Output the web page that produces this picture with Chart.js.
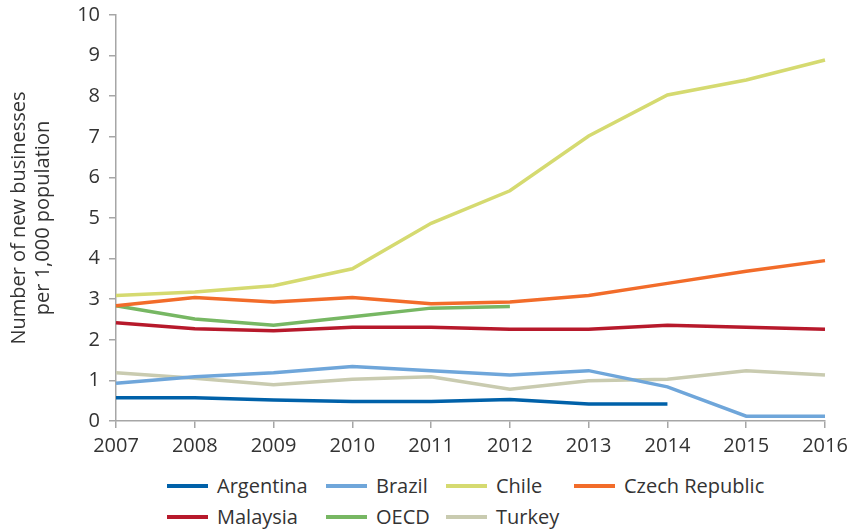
<!DOCTYPE html>
<html>
<head>
<meta charset="utf-8">
<script src="https://cdn.jsdelivr.net/npm/chart.js@4"></script>
<style>
  html, body { margin: 0; padding: 0; background: #fff; }
  body { width: 860px; height: 529px; overflow: hidden; font-family: "Open Sans", sans-serif; }
  #wrap { width: 860px; height: 462px; position: relative; }
  #legend { position: absolute; left: 167px; top: 473px; display: grid; grid-template-columns: 159px 120px 128px 220px; row-gap: 6px; }
  .item { display: flex; align-items: center; font-size: 20px; color: #333; height: 25px; white-space: nowrap; }
  .swatch { width: 41px; height: 4px; margin-right: 9px; flex: none; }
</style>
</head>
<body>
<div id="wrap"><canvas id="chart" width="860" height="462"></canvas></div>
<div id="legend"></div>
<script>
// Данные
const years = ['2007', '2008', '2009', '2010', '2011', '2012', '2013', '2014', '2015', '2016'];

const argentina = [0.57, 0.57, 0.52, 0.48, 0.48, 0.53, 0.42, 0.42, null, null];
const brazil    = [0.93, 1.09, 1.19, 1.34, 1.24, 1.13, 1.24, 0.84, 0.12, 0.12];
const chile     = [3.09, 3.18, 3.33, 3.75, 4.87, 5.67, 7.02, 8.03, 8.40, 8.89];
const czech     = [2.84, 3.04, 2.93, 3.04, 2.89, 2.93, 3.09, 3.39, 3.69, 3.95];
const malaysia  = [2.42, 2.27, 2.22, 2.31, 2.31, 2.26, 2.26, 2.36, 2.31, 2.26];
const oecd      = [2.84, 2.51, 2.36, 2.57, 2.78, 2.82, null, null, null, null];
const turkey    = [1.19, 1.05, 0.89, 1.03, 1.09, 0.78, 0.99, 1.03, 1.24, 1.13];

const seriesNames = ['Argentina', 'Brazil', 'Chile', 'Czech Republic', 'Malaysia', 'OECD', 'Turkey'];
const seriesValues = [argentina, brazil, chile, czech, malaysia, oecd, turkey];
const seriesColors = ['#0061a9', '#6fa6da', '#d5da70', '#f26c2a', '#b7192b', '#77b763', '#c9cbb0'];

const axisColor = '#a6a6a6';
const textColor = '#333';

const datasets = seriesNames.map((name, i) => ({
    label: name,
    data: seriesValues[i],
    borderColor: seriesColors[i],
    backgroundColor: seriesColors[i],
    borderWidth: 3.5,
    pointRadius: 0,
    tension: 0,
    spanGaps: false
}));

new Chart(document.getElementById('chart').getContext('2d'), {
    type: 'line',
    data: { labels: years, datasets: datasets },
    options: {
        responsive: false,
        animation: false,
        layout: { padding: { top: 15, right: 35, left: 0, bottom: 0 } },
        plugins: { legend: { display: false }, tooltip: { enabled: false } },
        scales: {
            x: {
                offset: false,
                grid: { display: true, drawOnChartArea: false, drawTicks: true, tickLength: 7, color: axisColor, lineWidth: 1.5 },
                border: { color: axisColor, width: 1.5 },
                ticks: { color: textColor, font: { family: 'Open Sans', size: 20 }, padding: 6, maxRotation: 0 },
                afterFit: s => { s.height = 41; s.paddingLeft = 0; s.paddingRight = 0; }
            },
            y: {
                min: 0, max: 10,
                grid: { display: true, drawOnChartArea: false, drawTicks: true, tickLength: 7, color: axisColor, lineWidth: 1.5 },
                border: { color: axisColor, width: 1.5 },
                ticks: { stepSize: 1, color: textColor, font: { family: 'Open Sans', size: 20 }, padding: 9 },
                title: {
                    display: true,
                    text: ['Number of new businesses', 'per 1,000 population'],
                    color: textColor,
                    font: { family: 'Open Sans', size: 20, lineHeight: 1.2 },
                    padding: { top: 7, bottom: 0 }
                },
                afterFit: s => { s.width = 116; s.paddingTop = 0; s.paddingBottom = 0; }
            }
        }
    }
});

// Легенда в две строки с выровненными колонками
const legend = document.getElementById('legend');
seriesNames.forEach((name, i) => {
    const item = document.createElement('div');
    item.className = 'item';
    item.innerHTML = '<span class="swatch" style="background:' + seriesColors[i] + '"></span><span>' + name + '</span>';
    legend.appendChild(item);
});
</script>
</body>
</html>
